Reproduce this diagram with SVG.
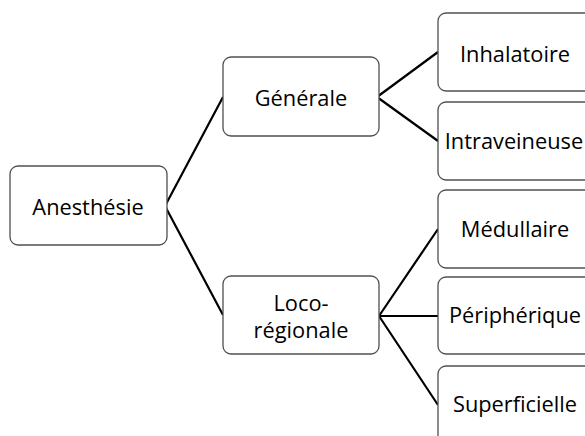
<svg xmlns="http://www.w3.org/2000/svg" width="585" height="436" viewBox="0 0 585 436">
<style>
.box{fill:#fff;stroke:#505050;stroke-width:1.3}
.lbl{font-family:"Open Sans","Liberation Sans",sans-serif;font-size:21.8px;fill:#000;text-anchor:middle}
.con{stroke:#000;stroke-width:2.2;fill:none}
</style>
<rect width="585" height="436" fill="#fff"/>
<g id="connectors">
<path class="con" d="M165 206 L223 97 M165 206 L223 315"/>
<path class="con" d="M377 97 L438 52 M377 97 L438 141"/>
<path class="con" d="M379 316 L438 229 M379 316 L438 316 M379 316 L438 405"/>
</g>
<g id="anesthesie"><rect class="box" x="10" y="166" width="157" height="79" rx="8"/><text class="lbl" x="88" y="215">Anesthésie</text></g>
<g id="generale"><rect class="box" x="223" y="57" width="156" height="79" rx="8"/><text class="lbl" x="301" y="106">Générale</text></g>
<g id="locoregionale"><rect class="box" x="223" y="276" width="156" height="78" rx="8"/><text class="lbl" x="301" y="311">Loco-</text><text class="lbl" x="301" y="338">régionale</text></g>
<g id="inhalatoire"><rect class="box" x="438" y="13" width="157" height="78" rx="8"/><text class="lbl" x="515" y="62">Inhalatoire</text></g>
<g id="intraveineuse"><rect class="box" x="438" y="102" width="157" height="78" rx="8"/><text class="lbl" x="514" y="149">Intraveineuse</text></g>
<g id="medullaire"><rect class="box" x="438" y="190" width="157" height="78" rx="8"/><text class="lbl" x="515" y="237">Médullaire</text></g>
<g id="peripherique"><rect class="box" x="438" y="277" width="157" height="77" rx="8"/><text class="lbl" x="515" y="323">Périphérique</text></g>
<g id="superficielle"><rect class="box" x="438" y="366" width="157" height="78" rx="8"/><text class="lbl" x="515" y="412">Superficielle</text></g>
</svg>
